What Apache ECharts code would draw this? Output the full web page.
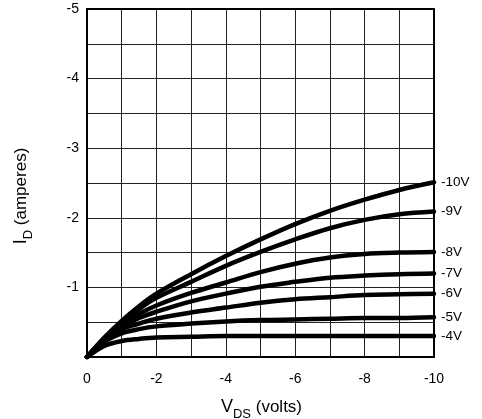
<!DOCTYPE html>
<html><head><meta charset="utf-8">
<script src="https://cdn.jsdelivr.net/npm/echarts@6/dist/echarts.min.js"></script>
<style>html,body{margin:0;padding:0;background:#fff}#c{width:482px;height:419px}</style>
</head><body><div id="c"></div>
<script>
const vds = [0, -0.5, -1, -1.5, -2, -3, -4, -5, -6, -7, -8, -9, -10];
const seriesNames = ['-10V', '-9V', '-8V', '-7V', '-6V', '-5V', '-4V'];
const id10 = [0, -0.28, -0.52, -0.73, -0.91, -1.19, -1.45, -1.69, -1.91, -2.10, -2.26, -2.40, -2.51];
const id9  = [0, -0.27, -0.50, -0.69, -0.85, -1.08, -1.31, -1.51, -1.69, -1.85, -1.97, -2.05, -2.09];
const id8  = [0, -0.26, -0.47, -0.62, -0.74, -0.92, -1.07, -1.22, -1.34, -1.43, -1.48, -1.50, -1.51];
const id7  = [0, -0.25, -0.44, -0.56, -0.65, -0.80, -0.91, -1.01, -1.08, -1.14, -1.17, -1.19, -1.20];
const id6  = [0, -0.24, -0.40, -0.48, -0.55, -0.64, -0.71, -0.78, -0.83, -0.86, -0.89, -0.90, -0.91];
const id5  = [0, -0.22, -0.34, -0.40, -0.44, -0.48, -0.51, -0.53, -0.54, -0.55, -0.56, -0.56, -0.57];
const id4  = [0, -0.16, -0.23, -0.26, -0.28, -0.29, -0.30, -0.30, -0.30, -0.30, -0.30, -0.30, -0.30];
const allIds = [id10, id9, id8, id7, id6, id5, id4];
const xTickLabels = ['0', '-2', '-4', '-6', '-8', '-10'];
const yTickLabels = ['-1', '-2', '-3', '-4', '-5'];

const font = '"Liberation Sans", Arial, Helvetica, sans-serif';
const richName = {
  v: {fontSize: 18, fontFamily: font, color: '#000', verticalAlign: 'bottom', lineHeight: 21},
  s: {fontSize: 13, fontFamily: font, color: '#000', verticalAlign: 'bottom', lineHeight: 13, padding: [0, 0, -5, 0]},
  n: {fontSize: 17, fontFamily: font, color: '#000', verticalAlign: 'bottom', lineHeight: 21}
};
const chart = echarts.init(document.getElementById('c'), null, {renderer: 'canvas'});
chart.setOption({
  animation: false,
  backgroundColor: '#fff',
  grid: {left: 87, top: 9, width: 347, height: 348, outerBoundsMode: 'none', containLabel: false, show: true, borderColor: '#000', borderWidth: 2, backgroundColor: 'transparent', z: 3},
  xAxis: {
    type: 'value', min: -10, max: 0, interval: 1, inverse: true,
    axisLine: {show: false}, axisTick: {show: false},
    splitLine: {show: true, lineStyle: {color: '#222', width: 1}},
    axisLabel: {
      margin: 15, color: '#000', fontSize: 14, fontFamily: font,
      formatter: v => { const s = String(Math.round(v)); return xTickLabels.includes(s) && Math.abs(v - Math.round(v)) < 1e-6 ? s : ''; }
    },
    name: '{v|V}{s|DS}{n| (volts)}', nameLocation: 'middle', nameGap: 38,
    nameTextStyle: {fontFamily: font, color: '#000', rich: richName, padding: [0, 0, 0, 2]}
  },
  yAxis: {
    type: 'value', min: -5, max: 0, interval: 0.5, inverse: true,
    axisLine: {show: false}, axisTick: {show: false},
    splitLine: {show: true, lineStyle: {color: '#222', width: 1}},
    axisLabel: {
      margin: 8, color: '#000', fontSize: 14, fontFamily: font,
      formatter: v => { const s = String(Math.round(v)); return Math.abs(v - Math.round(v)) < 1e-6 && yTickLabels.includes(s) ? s : ''; }
    },
    name: '{v|I}{s|D}{n| (amperes)}', nameLocation: 'middle', nameGap: 57, nameRotate: 90,
    nameTextStyle: {fontFamily: font, color: '#000', rich: richName, padding: [0, 26, 0, 0]}
  },
  series: seriesNames.map((name, i) => ({
    name: name, type: 'line', smooth: 0.35, symbol: 'none', z: 5,
    lineStyle: {color: '#000', width: 4.5, cap: 'round'},
    data: vds.map((x, j) => [x, allIds[i][j]]),
    endLabel: {show: true, formatter: name, color: '#000', fontSize: 13.5, fontFamily: font, align: 'left', distance: 6, offset: [13, 0]}
  }))
});
</script></body></html>
